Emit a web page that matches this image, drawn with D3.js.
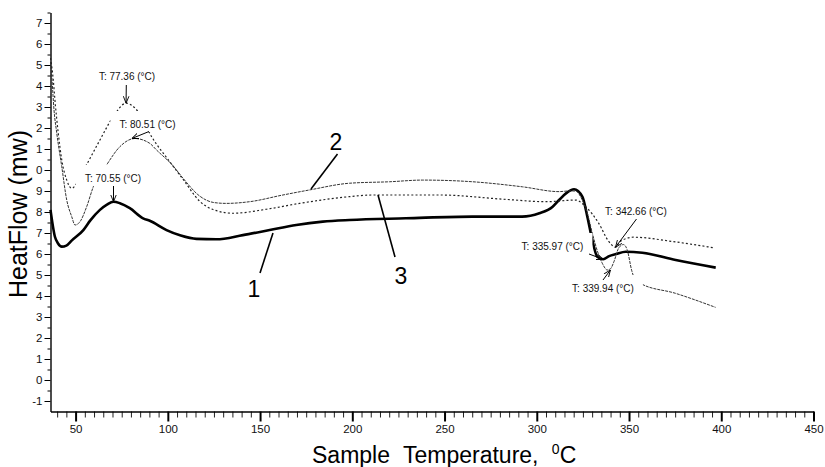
<!DOCTYPE html>
<html>
<head>
<meta charset="utf-8">
<script src="https://cdn.jsdelivr.net/npm/d3@7"></script>
<style>
  body { margin: 0; background: #fff; }
  text { font-family: Arial, "Liberation Sans", sans-serif; }
</style>
</head>
<body>
<svg id="chart" width="825" height="467"></svg>
<script>
// DSC curves
const temp1 = [36.4, 38.8, 40.5, 42.5, 45, 48, 54.2, 58, 63.2, 67, 70.5, 74, 79.4, 86.6, 90.2, 99.3, 107, 115.5, 126.3, 140.7, 155.2, 169.6, 184, 198.5, 229, 265, 292, 301.4, 308.6, 312.1, 316, 320.2, 324.7, 327.4, 330.1, 332.8, 336, 339.2, 343, 348.2, 357.2, 375.3, 397]
const flow1 = [8.1, 6.82, 6.5, 6.35, 6.4, 6.65, 7.14, 7.6, 8.1, 8.35, 8.49, 8.42, 8.18, 7.7, 7.58, 7.14, 6.88, 6.72, 6.7, 6.9, 7.14, 7.38, 7.54, 7.62, 7.7, 7.78, 7.78, 7.94, 8.25, 8.57, 8.9, 9.08, 8.73, 7.78, 6.67, 5.87, 5.75, 5.9, 6.0, 6.11, 6.06, 5.71, 5.35]

const temp2 = [36.4, 37.2, 38.3, 39.8, 42.5, 45.2, 47.9, 49.7, 52.4, 56, 59.6, 66.8, 74, 82.1, 90.2, 93.9, 102.8, 108.3, 117.4, 125, 131.7, 144.3, 162.4, 176.8, 198.5, 220.2, 238.2, 265.2, 292.2, 312.1, 317, 321, 324.5, 327.2, 330.1, 333, 335.5, 338.2, 340, 341.8, 344.5, 347, 349, 351.5, 353.5, 356.2, 375.1, 396.9]
const flow2 = [15.14, 14.3, 12.86, 11.75, 10.16, 8.57, 7.78, 7.38, 7.54, 8.25, 9.2, 10.24, 11.11, 11.5, 11.27, 10.95, 10.2, 9.6, 8.75, 8.45, 8.41, 8.49, 8.81, 9.05, 9.37, 9.44, 9.52, 9.44, 9.2, 8.97, 9.0, 9.0, 8.6, 8.0, 6.99, 6.1, 5.56, 5.24, 5.3, 5.63, 6.3, 6.45, 6.2, 5.2, 4.75, 4.6, 4.13, 3.46]

const temp3 = [36.4, 37.9, 38.8, 40.6, 42.5, 45.2, 47.9, 50.6, 53, 56, 63.2, 70.4, 77.4, 83.9, 91.2, 101, 108.3, 117.4, 125, 135.3, 153.4, 171.4, 198.5, 211, 247, 283.3, 304.9, 321.1, 326.5, 333.6, 339, 342.7, 345.1, 352.4, 374, 395.7]
const flow3 = [15.33, 14.29, 13.33, 11.76, 10.48, 9.52, 9.13, 9.37, 9.8, 10.26, 11.43, 12.54, 13.18, 12.78, 11.59, 10.4, 9.55, 8.5, 8.1, 7.94, 8.13, 8.41, 8.73, 8.81, 8.81, 8.6, 8.49, 8.57, 8.25, 7.46, 6.6, 6.32, 6.59, 6.8, 6.59, 6.3]

// peak annotations
const peakTemps = [77.36, 80.51, 70.55, 342.66, 335.97, 339.94]
const peakFlows = [13.18, 11.5, 8.49, 6.32, 5.75, 5.24]

const xTicks = [50, 100, 150, 200, 250, 300, 350, 400, 450]
const yTicks = [-1, 0, 1, 2, 3, 4, 5, 6, 7, 8, 9, 10, 11, 12, 13, 14, 15, 16, 17]
const yTickLabels = ["-1", "0", "1", "2", "3", "4", "5", "6", "7", "8", "9", "0", "1", "2", "3", "4", "5", "6", "7"]

const svg = d3.select('#chart')

const x = d3.scaleLinear().domain([36.4, 450]).range([50.5, 813.5])
const y = d3.scaleLinear().domain([-1.5, 17.5]).range([411.5, 12.5])

// arrow head
svg.append('defs').append('marker')
  .attr('id', 'arr')
  .attr('viewBox', '0 0 10 10')
  .attr('refX', 10).attr('refY', 5)
  .attr('markerWidth', 7).attr('markerHeight', 7)
  .attr('orient', 'auto')
  .append('path')
  .attr('d', 'M0,1 L10,5 L0,9')
  .attr('fill', 'none')
  .attr('stroke', '#000')
  .attr('stroke-width', 1.3)

// axes
const xMinor = d3.range(40, 451, 5).filter(d => d % 50 !== 0)
const yMinor = d3.range(-1.5, 17.6, 1)

svg.append('g')
  .attr('transform', `translate(0,${y.range()[0]})`)
  .call(d3.axisBottom(x).tickValues(xMinor).tickSize(6).tickFormat('').tickSizeOuter(0))
  .call(g => g.select('.domain').remove())
  .selectAll('line').attr('stroke', '#222')

svg.append('g')
  .attr('transform', `translate(0,${y.range()[0]})`)
  .call(d3.axisBottom(x).tickValues(xTicks).tickSize(10).tickSizeOuter(0).tickPadding(3))
  .call(g => g.select('.domain').attr('stroke-width', 1.4))
  .call(g => g.selectAll('.tick line').attr('stroke-width', 2))
  .call(g => g.selectAll('text').attr('font-size', 11.5).attr('fill', '#111'))

svg.append('g')
  .attr('transform', `translate(${x.range()[0]},0)`)
  .call(d3.axisLeft(y).tickValues(yMinor.filter(d => d > -1.5)).tickSize(3).tickFormat('').tickSizeOuter(0))
  .call(g => g.select('.domain').remove())

svg.append('g')
  .attr('transform', `translate(${x.range()[0]},0)`)
  .call(d3.axisLeft(y).tickValues(yTicks).tickSize(6).tickSizeOuter(0).tickPadding(2)
    .tickFormat((d, i) => yTickLabels[i]))
  .call(g => g.select('.domain').attr('stroke-width', 1.4))
  .call(g => g.selectAll('text').attr('font-size', 11.5).attr('fill', '#111'))

// axis titles
svg.append('text')
  .attr('transform', 'translate(27,214) rotate(-90)')
  .attr('text-anchor', 'middle')
  .attr('font-size', 25)
  .text('HeatFlow (mw)')

const xt = svg.append('text')
  .attr('x', 312).attr('y', 463)
  .attr('font-size', 23)
  .attr('word-spacing', 7)
xt.append('tspan').text('Sample Temperature, ')
xt.append('tspan').attr('font-size', 14).attr('dy', -9).text('0')
xt.append('tspan').attr('dy', 9).text('C')

// curves
const line = d3.line()
  .x(d => x(d[0]))
  .y(d => y(d[1]))
  .curve(d3.curveMonotoneX)

const curves = [
  { pts: d3.zip(temp1, flow1), width: 2.6, color: '#000', dash: null },
  { pts: d3.zip(temp2, flow2), width: 1, color: '#333', dash: '3,1' },
  { pts: d3.zip(temp3, flow3), width: 1.2, color: '#222', dash: '2,2.2' }
]

svg.append('g').selectAll('path')
  .data(curves).enter().append('path')
  .attr('d', d => line(d.pts))
  .attr('fill', 'none')
  .attr('stroke', d => d.color)
  .attr('stroke-width', d => d.width)
  .attr('stroke-dasharray', d => d.dash)
  .attr('stroke-linejoin', 'round')

// annotation layout: label centre/baseline and arrow start, in pixels
const annLayout = [
  { tx: 127, ty: 80, ax: 126.3, ay: 85 },
  { tx: 147.5, ty: 128, ax: 149, ay: 131.5 },
  { tx: 113, ty: 182, ax: 113.5, ay: 186 },
  { tx: 636, ty: 215, ax: 636.5, ay: 219 },
  { tx: 552.5, ty: 250, ax: 589, ay: 254 },
  { tx: 603, ty: 292, ax: 603, ay: 280 }
]

const anns = peakTemps.map((t, i) => ({
  label: `T: ${t.toFixed(2)} (°C)`,
  tipX: x(t),
  tipY: y(peakFlows[i]),
  ...annLayout[i]
}))

const annG = svg.append('g').selectAll('g')
  .data(anns).enter().append('g')

const annText = annG.append('text')
  .attr('x', d => d.tx).attr('y', d => d.ty)
  .attr('text-anchor', 'middle')
  .attr('font-size', 10)
  .attr('fill', '#111')
  .text(d => d.label)

// white box behind each label, like the instrument software draws
annText.each(function () {
  const b = this.getBBox()
  d3.select(this.parentNode).insert('rect', 'text')
    .attr('x', b.x - 9).attr('y', b.y - 8)
    .attr('width', b.width + 18).attr('height', b.height + 10)
    .attr('fill', '#fff')
})

annG.append('line')
  .attr('x1', d => d.ax).attr('y1', d => d.ay)
  .attr('x2', d => d.tipX).attr('y2', d => d.tipY)
  .attr('stroke', '#000')
  .attr('stroke-width', 1)
  .attr('marker-end', 'url(#arr)')

// curve numbers with leader lines
const curveTags = [
  { name: '1', tx: 254, ty: 297, x1: 260, y1: 273, x2: 273, y2: 233 },
  { name: '2', tx: 336, ty: 150, x1: 337.5, y1: 154, x2: 311, y2: 189 },
  { name: '3', tx: 401, ty: 284, x1: 395, y1: 257, x2: 378, y2: 195 }
]

const tagG = svg.append('g').selectAll('g')
  .data(curveTags).enter().append('g')

tagG.append('line')
  .attr('x1', d => d.x1).attr('y1', d => d.y1)
  .attr('x2', d => d.x2).attr('y2', d => d.y2)
  .attr('stroke', '#000')
  .attr('stroke-width', 1.6)

tagG.append('text')
  .attr('x', d => d.tx).attr('y', d => d.ty)
  .attr('text-anchor', 'middle')
  .attr('font-size', 23)
  .text(d => d.name)
</script>
</body>
</html>
